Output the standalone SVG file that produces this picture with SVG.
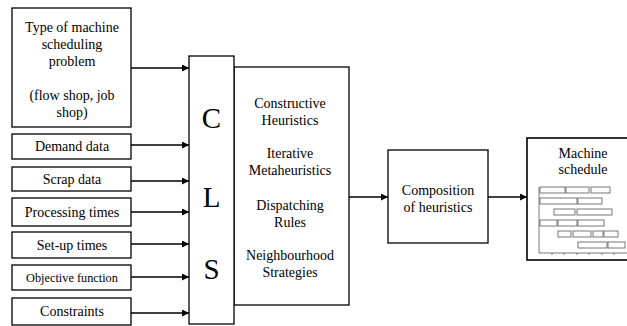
<svg xmlns="http://www.w3.org/2000/svg" width="627" height="326" viewBox="0 0 627 326" font-family="'Liberation Serif', 'Times New Roman', 'DejaVu Serif', serif">
<defs>
<style>
.box{fill:#fff;stroke:#000;stroke-width:1.3}
.t{font-family:'Liberation Serif','Times New Roman','DejaVu Serif',serif;font-size:14px;fill:#000;text-anchor:middle}
.big{font-family:'Liberation Serif','Times New Roman','DejaVu Serif',serif;font-size:29px;fill:#000;text-anchor:middle}
.c{fill:none;stroke:#000;stroke-width:1.5}
.bar{fill:#fff;stroke:#555;stroke-width:0.8}
.g{stroke:#555;stroke-width:0.8;fill:none}
</style>
<marker id="ah" viewBox="0 0 10 10" refX="10" refY="5" markerWidth="8" markerHeight="7" markerUnits="userSpaceOnUse" orient="auto">
<path d="M0,0 L10,5 L0,10 z" fill="#000"/>
</marker>
</defs>
<rect width="627" height="326" fill="#fff"/>

<g id="connectors">
<line class="c" x1="131" y1="68" x2="189" y2="68" marker-end="url(#ah)"/>
<line class="c" x1="131" y1="145" x2="189" y2="145" marker-end="url(#ah)"/>
<line class="c" x1="131" y1="181" x2="189" y2="181" marker-end="url(#ah)"/>
<line class="c" x1="131" y1="212" x2="189" y2="212" marker-end="url(#ah)"/>
<line class="c" x1="131" y1="244" x2="189" y2="244" marker-end="url(#ah)"/>
<line class="c" x1="131" y1="277" x2="189" y2="277" marker-end="url(#ah)"/>
<line class="c" x1="131" y1="313" x2="189" y2="313" marker-end="url(#ah)"/>
<line class="c" x1="349" y1="197" x2="388" y2="197" marker-end="url(#ah)"/>
<line class="c" x1="488" y1="197" x2="527" y2="197" marker-end="url(#ah)"/>
</g>

<g id="type">
<rect class="box" x="12" y="8" width="119" height="119"/>
<text class="t" x="72" y="32">Type of machine</text>
<text class="t" x="72" y="49">scheduling</text>
<text class="t" x="72" y="66">problem</text>
<text class="t" x="72" y="100">(flow shop, job</text>
<text class="t" x="72" y="117">shop)</text>
</g>
<g id="demand">
<rect class="box" x="12" y="134" width="119" height="25"/>
<text class="t" x="72" y="151">Demand data</text>
</g>
<g id="scrap">
<rect class="box" x="12" y="167" width="119" height="24"/>
<text class="t" x="72" y="184">Scrap data</text>
</g>
<g id="processing">
<rect class="box" x="12" y="198" width="119" height="28"/>
<text class="t" x="72" y="217">Processing times</text>
</g>
<g id="setup">
<rect class="box" x="12" y="232" width="119" height="26"/>
<text class="t" x="72" y="250">Set-up times</text>
</g>
<g id="objective">
<rect class="box" x="12" y="265" width="119" height="25"/>
<text class="t" x="72" y="282" style="font-size:12.3px">Objective function</text>
</g>
<g id="constraints">
<rect class="box" x="12" y="298" width="119" height="27"/>
<text class="t" x="72" y="316">Constraints</text>
</g>

<g id="heuristics">
<rect class="box" x="234" y="67" width="115" height="238"/>
<text class="t" x="290" y="108">Constructive</text>
<text class="t" x="290" y="125">Heuristics</text>
<text class="t" x="290" y="158">Iterative</text>
<text class="t" x="290" y="175">Metaheuristics</text>
<text class="t" x="290" y="210">Dispatching</text>
<text class="t" x="290" y="227">Rules</text>
<text class="t" x="290" y="260">Neighbourhood</text>
<text class="t" x="290" y="277">Strategies</text>
</g>

<g id="cls">
<rect class="box" x="189" y="56" width="45" height="268"/>
<text class="big" x="211.5" y="128">C</text>
<text class="big" x="211.5" y="207">L</text>
<text class="big" x="211.5" y="279">S</text>
</g>

<g id="composition">
<rect class="box" x="388" y="150" width="100" height="93"/>
<text class="t" x="438" y="195">Composition</text>
<text class="t" x="438" y="212">of heuristics</text>
</g>

<g id="schedule">
<rect class="box" x="527" y="138" width="110" height="122" style="stroke-width:1.6"/>
<text class="t" x="583" y="158">Machine</text>
<text class="t" x="583" y="174">schedule</text>
<path class="g" d="M539,187 V253 H627"/>
<path class="g" d="M552,253 v2 M564,253 v2 M577,253 v2 M589,253 v2 M602,253 v2 M614,253 v2"/>
<rect class="bar" x="540" y="187" width="25" height="6"/>
<rect class="bar" x="566" y="187" width="23" height="6"/>
<rect class="bar" x="591" y="187" width="19" height="6"/>
<rect class="bar" x="540" y="198" width="37" height="6"/>
<rect class="bar" x="578" y="198" width="24" height="6"/>
<rect class="bar" x="554" y="209" width="21" height="6"/>
<rect class="bar" x="577" y="209" width="35" height="6"/>
<rect class="bar" x="540" y="220" width="17" height="6"/>
<rect class="bar" x="558" y="220" width="19" height="6"/>
<rect class="bar" x="578" y="220" width="26" height="6"/>
<rect class="bar" x="558" y="231" width="13" height="6"/>
<rect class="bar" x="573" y="231" width="18" height="6"/>
<rect class="bar" x="593" y="231" width="10" height="6"/>
<rect class="bar" x="604" y="231" width="14" height="6"/>
<rect class="bar" x="578" y="242" width="29" height="6"/>
<rect class="bar" x="608" y="242" width="17" height="6"/>
</g>
</svg>
